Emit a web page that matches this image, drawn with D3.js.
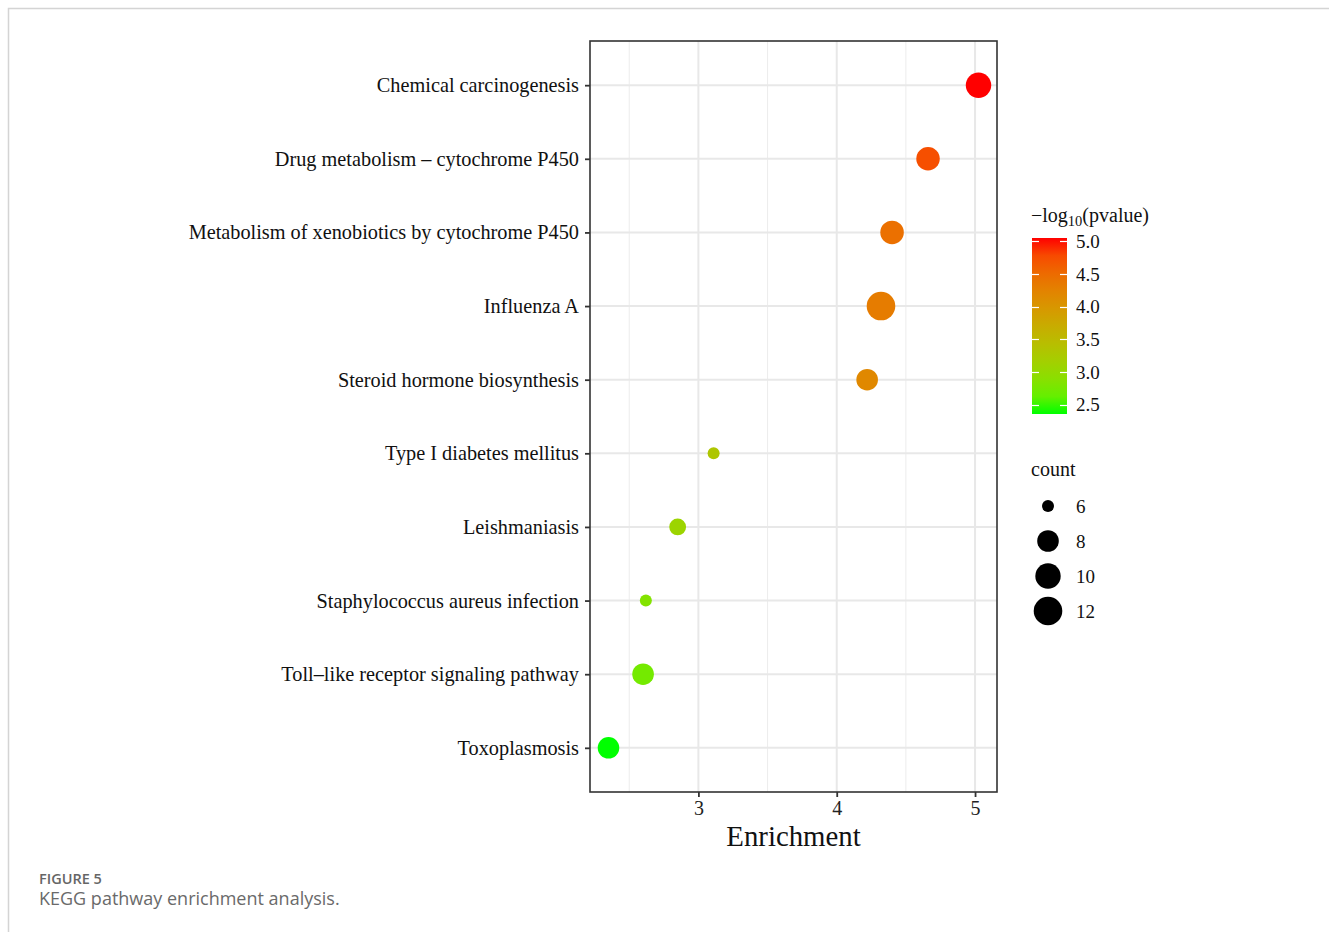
<!DOCTYPE html>
<html>
<head>
<meta charset="utf-8">
<script src="https://cdn.jsdelivr.net/npm/d3@7"></script>
<style>
  body { margin: 0; background: #fff; }
  svg { display: block; }
</style>
</head>
<body>
<svg width="1329" height="932"></svg>
<script>
// KEGG pathways, top to bottom
const pathways = [
  'Chemical carcinogenesis',
  'Drug metabolism \u2013 cytochrome P450',
  'Metabolism of xenobiotics by cytochrome P450',
  'Influenza A',
  'Steroid hormone biosynthesis',
  'Type I diabetes mellitus',
  'Leishmaniasis',
  'Staphylococcus aureus infection',
  'Toll\u2013like receptor signaling pathway',
  'Toxoplasmosis'
];
const enrichment = [5.025, 4.66, 4.40, 4.32, 4.22, 3.11, 2.85, 2.62, 2.60, 2.35];
const logP = [5.05, 4.75, 4.45, 4.32, 4.18, 3.30, 3.08, 2.84, 2.72, 2.36];
const counts = [10, 9, 9, 12, 8, 6, 7, 6, 8, 8];

const xTicks = [3, 4, 5];
const colorBreaks = [2.5, 3.0, 3.5, 4.0, 4.5, 5.0];
const sizeBreaks = [6, 8, 10, 12];

const svg = d3.select('svg');
const serif = '"Liberation Serif", "Times New Roman", serif';

// page frame
svg.append('path')
  .attr('d', 'M8.5,932 V8.5 H1329')
  .attr('fill', 'none')
  .attr('stroke', '#d4d4d4')
  .attr('stroke-width', 1.5);

const panel = { left: 590, right: 997, top: 41, bottom: 792 };

const xMin = d3.min(enrichment), xMax = d3.max(enrichment);
const xPad = (xMax - xMin) * 0.05;
const x = d3.scaleLinear()
  .domain([xMin - xPad, xMax + xPad])
  .range([panel.left, panel.right]);

const y = d3.scalePoint()
  .domain(pathways)
  .range([panel.top, panel.bottom])
  .padding(0.6);

const color = d3.scaleLinear()
  .domain([d3.min(logP), d3.max(logP)])
  .range(['#00ff00', '#ff0000'])
  .interpolate(d3.interpolateLab);

const radius = d3.scaleLinear()
  .domain(sizeBreaks)
  .range([6, 10.8, 12.7, 14.3]);

const g = svg.append('g');

// minor grid
const minor = [2.5, 3.5, 4.5];
g.selectAll('.minor').data(minor).join('line')
  .attr('x1', d => x(d)).attr('x2', d => x(d))
  .attr('y1', panel.top).attr('y2', panel.bottom)
  .attr('stroke', '#ececec').attr('stroke-width', 1);

// major grid
g.selectAll('.vmajor').data(xTicks).join('line')
  .attr('x1', d => x(d)).attr('x2', d => x(d))
  .attr('y1', panel.top).attr('y2', panel.bottom)
  .attr('stroke', '#e8e8e8').attr('stroke-width', 2);

g.selectAll('.hmajor').data(pathways).join('line')
  .attr('x1', panel.left).attr('x2', panel.right)
  .attr('y1', d => y(d)).attr('y2', d => y(d))
  .attr('stroke', '#e8e8e8').attr('stroke-width', 2);

// points
g.selectAll('circle.pt').data(pathways).join('circle')
  .attr('class', 'pt')
  .attr('cx', (d, i) => x(enrichment[i]))
  .attr('cy', d => y(d))
  .attr('r', (d, i) => radius(counts[i]))
  .attr('fill', (d, i) => color(logP[i]));

// border
g.append('rect')
  .attr('x', panel.left).attr('y', panel.top)
  .attr('width', panel.right - panel.left)
  .attr('height', panel.bottom - panel.top)
  .attr('fill', 'none')
  .attr('stroke', '#333').attr('stroke-width', 1.6);

// y axis
const yAxis = g.append('g')
  .attr('transform', `translate(${panel.left},0)`)
  .call(d3.axisLeft(y).tickSize(5).tickPadding(6));
yAxis.select('.domain').remove();
yAxis.selectAll('line').attr('stroke', '#333').attr('stroke-width', 1.8);
yAxis.selectAll('text')
  .attr('font-family', serif).attr('font-size', 20.3).attr('fill', '#111');

// x axis
const xAxis = g.append('g')
  .attr('transform', `translate(0,${panel.bottom})`)
  .call(d3.axisBottom(x).tickValues(xTicks).tickFormat(d3.format('d')).tickSize(5).tickPadding(4));
xAxis.select('.domain').remove();
xAxis.selectAll('line').attr('stroke', '#333').attr('stroke-width', 1.8);
xAxis.selectAll('text')
  .attr('font-family', serif).attr('font-size', 20).attr('fill', '#222');

g.append('text')
  .attr('x', (panel.left + panel.right) / 2).attr('y', 846)
  .attr('text-anchor', 'middle')
  .attr('font-family', serif).attr('font-size', 28.8).attr('fill', '#111')
  .text('Enrichment');

// colour legend
const cbar = { x: 1032, top: 238, bottom: 414, width: 35 };
const cy = d3.scaleLinear().domain(color.domain()).range([cbar.bottom, cbar.top]);

const title = svg.append('text')
  .attr('x', 1031).attr('y', 222)
  .attr('font-family', serif).attr('font-size', 20).attr('fill', '#111');
title.append('tspan').text('\u2212log');
title.append('tspan').attr('font-size', 14.5).attr('dy', 4).text('10');
title.append('tspan').attr('dy', -4).text('(pvalue)');

const defs = svg.append('defs');
const grad = defs.append('linearGradient')
  .attr('id', 'cgrad').attr('x1', 0).attr('x2', 0).attr('y1', 1).attr('y2', 0);
d3.range(0, 1.0001, 0.1).forEach(t => {
  const v = color.domain()[0] + t * (color.domain()[1] - color.domain()[0]);
  grad.append('stop').attr('offset', t).attr('stop-color', color(v));
});
svg.append('rect')
  .attr('x', cbar.x).attr('y', cbar.top)
  .attr('width', cbar.width).attr('height', cbar.bottom - cbar.top)
  .attr('fill', 'url(#cgrad)');

const cticks = svg.append('g');
colorBreaks.forEach(b => {
  const yy = Math.round(cy(b)) + 0.5;
  cticks.append('line')
    .attr('x1', cbar.x).attr('x2', cbar.x + 7).attr('y1', yy).attr('y2', yy)
    .attr('stroke', '#fff').attr('stroke-width', 1.2);
  cticks.append('line')
    .attr('x1', cbar.x + cbar.width - 7).attr('x2', cbar.x + cbar.width).attr('y1', yy).attr('y2', yy)
    .attr('stroke', '#fff').attr('stroke-width', 1.2);
  cticks.append('text')
    .attr('x', 1076).attr('y', cy(b)).attr('dy', '0.35em')
    .attr('font-family', serif).attr('font-size', 19).attr('fill', '#111')
    .text(b.toFixed(1));
});

// size legend
svg.append('text')
  .attr('x', 1031).attr('y', 476)
  .attr('font-family', serif).attr('font-size', 20).attr('fill', '#111')
  .text('count');

const sizeY = d3.scalePoint().domain(sizeBreaks).range([506, 611]);
const sizeLeg = svg.append('g');
sizeLeg.selectAll('circle').data(sizeBreaks).join('circle')
  .attr('cx', 1048).attr('cy', d => sizeY(d))
  .attr('r', d => radius(d)).attr('fill', '#000');
sizeLeg.selectAll('text').data(sizeBreaks).join('text')
  .attr('x', 1076).attr('y', d => sizeY(d)).attr('dy', '0.35em')
  .attr('font-family', serif).attr('font-size', 19).attr('fill', '#111')
  .text(d => d);

// caption
svg.append('text')
  .attr('x', 39).attr('y', 884)
  .attr('font-family', '"Open Sans", sans-serif').attr('font-size', 14.5)
  .attr('font-weight', 600).attr('fill', '#666')
  .text('FIGURE 5');
svg.append('text')
  .attr('x', 39).attr('y', 905)
  .attr('font-family', '"Open Sans", sans-serif').attr('font-size', 18)
  .attr('fill', '#6a6a6a')
  .text('KEGG pathway enrichment analysis.');
</script>
</body>
</html>
